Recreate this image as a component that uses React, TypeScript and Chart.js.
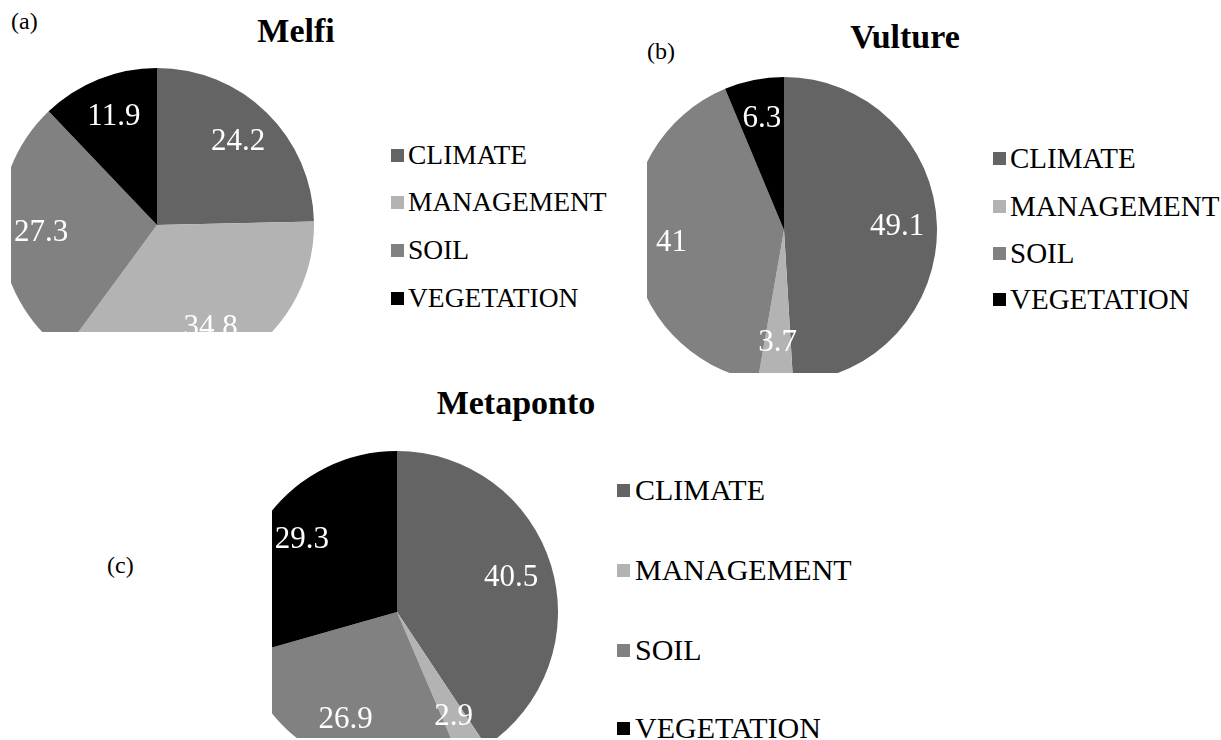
import React, { useEffect, useRef } from "react";
import { Chart, registerables } from "chart.js";

Chart.register(...registerables);

const categories = ["CLIMATE", "MANAGEMENT", "SOIL", "VEGETATION"];
const melfiValues = [24.2, 34.8, 27.3, 11.9];
const vultureValues = [49.1, 3.7, 41, 6.3];
const metapontoValues = [40.5, 2.9, 26.9, 29.3];
const sliceColors = ["#646464", "#b3b3b3", "#818181", "#000000"];

const SERIF = '"Liberation Serif", "Times New Roman", serif';

const sliceLabelPlugin = {
  id: "sliceLabels",
  afterDatasetsDraw(chart: any, _args: any, opts: any) {
    const { ctx } = chart;
    const meta = chart.getDatasetMeta(0);
    const data = chart.data.datasets[0].data as number[];
    ctx.save();
    ctx.font = `${opts.size || 30}px ${SERIF}`;
    ctx.fillStyle = "#ffffff";
    ctx.textAlign = "center";
    ctx.textBaseline = "middle";
    meta.data.forEach((arc: any, i: number) => {
      const p = arc.getProps(["x", "y", "startAngle", "endAngle", "outerRadius"], true);
      const mid = (p.startAngle + p.endAngle) / 2;
      const r = p.outerRadius * (opts.ratio || 0.74);
      ctx.fillText(String(data[i]), p.x + Math.cos(mid) * r, p.y + Math.sin(mid) * r);
    });
    ctx.restore();
  },
};

type PieProps = {
  values: number[];
  clip: { left: number; top: number; width: number; height: number };
  cx: number;
  cy: number;
  rx: number;
  ry: number;
  labelSize: number;
};

function ClippedPie({ values, clip, cx, cy, rx, ry, labelSize }: PieProps) {
  const ref = useRef<HTMLCanvasElement | null>(null);
  useEffect(() => {
    if (!ref.current) return;
    const chart = new Chart(ref.current, {
      type: "pie",
      data: {
        labels: categories,
        datasets: [
          {
            data: values,
            backgroundColor: sliceColors,
            borderWidth: 0,
          },
        ],
      },
      options: {
        animation: false,
        responsive: false,
        devicePixelRatio: 1,
        layout: { padding: 0 },
        events: [],
        plugins: {
          legend: { display: false },
          title: { display: false },
          tooltip: { enabled: false },
          sliceLabels: { size: labelSize, ratio: 0.74 },
        } as any,
      },
      plugins: [sliceLabelPlugin],
    });
    return () => chart.destroy();
  }, []);
  const w = rx * 2;
  const h = ry * 2;
  return (
    <div
      style={{
        position: "absolute",
        left: clip.left,
        top: clip.top,
        width: clip.width,
        height: clip.height,
        overflow: "hidden",
      }}
    >
      <canvas
        ref={ref}
        width={w}
        height={h}
        style={{
          position: "absolute",
          left: cx - rx - clip.left,
          top: cy - ry - clip.top,
          width: w,
          height: h,
        }}
      />
    </div>
  );
}

function Legend({ x, textX, centers, fontSize }: { x: number; textX: number; centers: number[]; fontSize: number }) {
  return (
    <>
      {categories.map((c, i) => (
        <React.Fragment key={c}>
          <div
            style={{
              position: "absolute",
              left: x,
              top: centers[i] - 6,
              width: 13,
              height: 13,
              background: sliceColors[i],
            }}
          />
          <div
            style={{
              position: "absolute",
              left: textX,
              top: centers[i] - fontSize / 2,
              fontSize,
              fontFamily: SERIF,
              lineHeight: `${fontSize}px`,
              color: "#000",
              whiteSpace: "nowrap",
            }}
          >
            {c}
          </div>
        </React.Fragment>
      ))}
    </>
  );
}

function Label({ x, y, size, bold, children, center }: any) {
  return (
    <div
      style={{
        position: "absolute",
        left: x,
        top: y - size / 2,
        lineHeight: `${size}px`,
        fontSize: size,
        fontWeight: bold ? "bold" : "normal",
        fontFamily: SERIF,
        color: "#000",
        whiteSpace: "nowrap",
        transform: center ? "translateX(-50%)" : undefined,
      }}
    >
      {children}
    </div>
  );
}

export default function App() {
  return (
    <div>
      <Label x={11} y={21} size={24}>(a)</Label>
      <Label x={296} y={31} size={34} bold center>Melfi</Label>
      <ClippedPie
        values={melfiValues}
        clip={{ left: 11, top: 50, width: 320, height: 282 }}
        cx={157}
        cy={225}
        rx={157}
        ry={163}
        labelSize={31}
      />
      <Legend x={391} textX={408} centers={[155, 202, 250, 298]} fontSize={27.5} />

      <Label x={647} y={51} size={24}>(b)</Label>
      <Label x={905} y={37} size={34} bold center>Vulture</Label>
      <ClippedPie
        values={vultureValues}
        clip={{ left: 647, top: 60, width: 300, height: 313 }}
        cx={784}
        cy={230}
        rx={153}
        ry={153}
        labelSize={31}
      />
      <Legend x={993} textX={1010} centers={[158, 206, 253, 299]} fontSize={29} />

      <Label x={516} y={403} size={34} bold center>Metaponto</Label>
      <Label x={107} y={565} size={24}>(c)</Label>
      <ClippedPie
        values={metapontoValues}
        clip={{ left: 272, top: 440, width: 300, height: 298 }}
        cx={397}
        cy={612}
        rx={161}
        ry={162}
        labelSize={31}
      />
      <Legend x={617} textX={635} centers={[490, 570, 650, 728]} fontSize={30} />
    </div>
  );
}
